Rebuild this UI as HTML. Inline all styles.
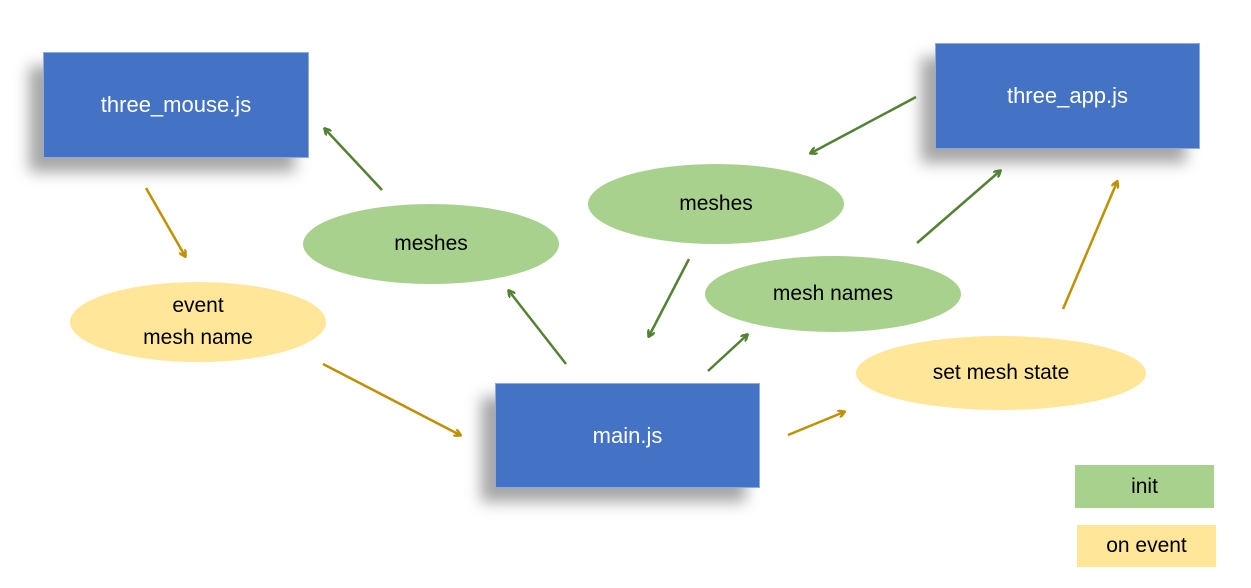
<!DOCTYPE html>
<html><head><meta charset="utf-8"><style>
body{margin:0;width:1251px;height:588px;background:#fff;position:relative;overflow:hidden;font-family:"Liberation Sans",sans-serif}
.box{position:absolute;background:#4472c4;color:#fff;font-size:22px;display:flex;align-items:center;justify-content:center;border:1px solid #8faadc;box-sizing:border-box;box-shadow:-14px 14px 14px rgba(0,0,0,0.35);}
.el{position:absolute;border-radius:50%;display:flex;align-items:center;justify-content:center;text-align:center;font-size:21px;color:#000;line-height:32px}
.g{background:#a9d18e}.y{background:#ffe699}
</style></head><body>
<div class="box" style="left:43px;top:52px;width:266px;height:106px">three_mouse.js</div>
<div class="box" style="left:935px;top:43px;width:265px;height:106px">three_app.js</div>
<div class="box" style="left:495px;top:383px;width:265px;height:105px">main.js</div>
<div class="el g" style="left:303px;top:204px;width:256px;height:80px">meshes</div>
<div class="el g" style="left:588px;top:164px;width:256px;height:80px">meshes</div>
<div class="el g" style="left:705px;top:256px;width:256px;height:76px">mesh names</div>
<div class="el y" style="left:70px;top:282px;width:256px;height:80px">event<br>mesh name</div>
<div class="el y" style="left:856px;top:336px;width:290px;height:74px">set mesh state</div>
<div class="el g" style="left:1075px;top:465px;width:139px;height:43px;border-radius:0">init</div>
<div class="el y" style="left:1077px;top:525px;width:139px;height:42px;border-radius:0">on event</div>
<svg width="1251" height="588" style="position:absolute;left:0;top:0">
<defs>
<marker id="ag" markerWidth="8" markerHeight="8" refX="6" refY="4" orient="auto" markerUnits="userSpaceOnUse"><path d="M0,0 L7,4 L0,8" fill="none" stroke="#548235" stroke-width="2.5"/></marker>
<marker id="ay" markerWidth="8" markerHeight="8" refX="6" refY="4" orient="auto" markerUnits="userSpaceOnUse"><path d="M0,0 L7,4 L0,8" fill="none" stroke="#bf9000" stroke-width="2.5"/></marker>
</defs>
<g stroke="#548235" stroke-width="2.5" marker-end="url(#ag)">
<line x1="382" y1="190" x2="325" y2="129"/>
<line x1="566" y1="364" x2="509" y2="291"/>
<line x1="689" y1="259" x2="649" y2="336"/>
<line x1="708" y1="371" x2="747" y2="335"/>
<line x1="916" y1="97" x2="811" y2="153"/>
<line x1="917" y1="243" x2="1000" y2="171"/>
</g>
<g stroke="#bf9000" stroke-width="2.5" marker-end="url(#ay)">
<line x1="146" y1="188" x2="185" y2="256"/>
<line x1="323" y1="364" x2="460" y2="435"/>
<line x1="788" y1="435" x2="844" y2="412"/>
<line x1="1063" y1="309" x2="1117" y2="182"/>
</g>
</svg>
</body></html>
